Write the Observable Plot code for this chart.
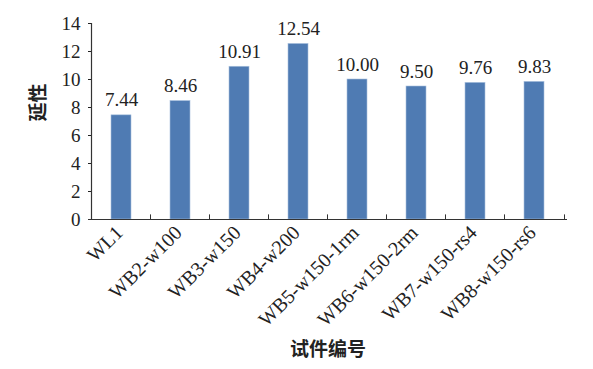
<!DOCTYPE html>
<html>
<head>
<meta charset="utf-8">
<script src="https://cdn.jsdelivr.net/npm/d3@7"></script>
<script src="https://cdn.jsdelivr.net/npm/@observablehq/plot@0.6"></script>
<style>
  html, body { margin: 0; padding: 0; background: #fff; }
  svg text { font-family: "Liberation Serif", "Times New Roman", serif; }
  svg text.cjk { font-family: "Noto Sans CJK SC", sans-serif; }
</style>
</head>
<body>
<div id="chart"></div>
<script>
const categories = ["WL1", "WB2-w100", "WB3-w150", "WB4-w200", "WB5-w150-1rm", "WB6-w150-2rm", "WB7-w150-rs4", "WB8-w150-rs6"];
const values = [7.44, 8.46, 10.91, 12.54, 10.00, 9.50, 9.76, 9.83];
const yTicks = [0, 2, 4, 6, 8, 10, 12, 14];
const xTitle = "试件编号";
const yTitle = "延性";

const data = categories.map((c, i) => ({name: c, value: values[i]}));
const serif = "Liberation Serif";

const chart = Plot.plot({
  width: 593,
  height: 369,
  marginLeft: 88,
  marginRight: 26,
  marginTop: 23,
  marginBottom: 150,
  style: {fontFamily: serif, fontSize: "19px", color: "#222", background: "#fff"},
  x: {domain: categories, paddingInner: 0.66, paddingOuter: 0.33, label: null},
  y: {domain: [0, 14], ticks: yTicks, label: null},
  marks: [
    Plot.barY(data, {x: "name", y: "value", fill: "#4f7bb3", stroke: "#a9c0de", strokeWidth: 0.6}),
    Plot.text(data, {x: "name", y: "value", text: d => d.value.toFixed(2), dy: -15, fontSize: 19, fill: "#222"}),
    Plot.axisY({ticks: yTicks, tickSize: -4, tickPadding: 12, fontSize: 19, label: null}),
    Plot.axisX({tickSize: 0, tickRotate: -45, tickPadding: 10, dx: -2, fontSize: 20, label: null}),
    Plot.ruleY([0], {stroke: "#333", strokeWidth: 1.2}),
    Plot.ruleX([categories[0]], {dx: -30, stroke: "#333", strokeWidth: 1.2}),
    Plot.ruleX(categories, {x: d => d, dx: -30, y1: 0, y2: 0.33, stroke: "#333"}),
    Plot.ruleX([categories[categories.length - 1]], {dx: 30, y1: 0, y2: 0.33, stroke: "#333"}),
    Plot.text([yTitle], {frameAnchor: "left", rotate: -90, dx: -50, className: "cjk", fontWeight: "bold", fontSize: 19, fill: "#222"}),
    Plot.text([xTitle], {frameAnchor: "bottom", dy: 136, className: "cjk", fontWeight: "bold", fontSize: 19, fill: "#222"})
  ]
});
chart.querySelectorAll(".cjk text").forEach(t => t.setAttribute("class", "cjk"));
document.getElementById("chart").appendChild(chart);
</script>
</body>
</html>
